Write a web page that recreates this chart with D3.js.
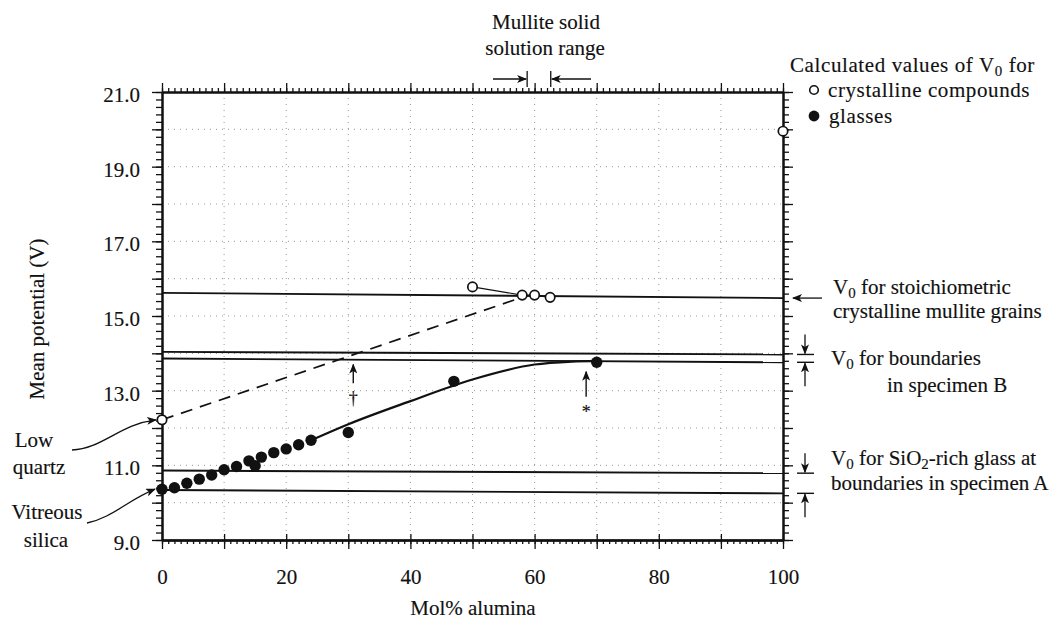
<!DOCTYPE html>
<html>
<head>
<meta charset="utf-8">
<script src="https://cdn.jsdelivr.net/npm/d3@7"></script>
<style>
	body { margin: 0; background: #fff; }
	text { font-family: "Liberation Serif", "DejaVu Serif", serif; fill: #111; stroke: #111; stroke-width: 0.15px; }
	.note { font-size: 21px; }
	.leg { font-size: 21px; letter-spacing: 0.6px; }
</style>
</head>
<body>
<div id="chart"></div>
<script>
// values
var xTickLabels = [0, 20, 40, 60, 80, 100];
var yTickLabels = [9, 11, 13, 15, 17, 19, 21];

// glasses (filled)
var glassX = [0, 2, 4, 6, 8, 10, 12, 14, 15, 16, 18, 20, 22, 24, 30, 47, 70];
var glassY = [10.36, 10.40, 10.52, 10.63, 10.74, 10.88, 10.97, 11.12, 10.99, 11.22, 11.34, 11.44, 11.55, 11.67, 11.88, 13.25, 13.76];

// crystalline compounds (open)
var crystalX = [0, 50, 58, 60, 62.5, 100];
var crystalY = [12.22, 15.78, 15.56, 15.56, 15.50, 19.95];

// tie line through the mullite points
var tieX = [50, 58, 60, 62.5];
var tieY = [15.78, 15.56, 15.56, 15.50];

// dashed line low quartz -> mullite
var dashX = [0, 58];
var dashY = [12.22, 15.50];

// solid curve through glasses
var fitX = [24, 30, 40, 50, 60, 66, 70];
var fitY = [11.67, 12.10, 12.72, 13.30, 13.70, 13.78, 13.80];

// horizontal reference lines (value at x=0 and at x=100)
var refLeft = [15.62, 14.04, 13.86, 10.86, 10.34];
var refRight = [15.48, 13.97, 13.76, 10.79, 10.25];

// small up arrows with marks
var markX = [30.8, 68.3];
var markTip = [13.70, 13.51];
var markTail = [13.20, 12.84];
var markSymbol = ["\u2020", "*"];

// mullite solid solution range
var mulliteRange = [58.8, 62.6];

var W = 1056, H = 623;

var svg = d3.select("#chart")
	.append("svg")
	.attr("width", W)
	.attr("height", H);

var defs = svg.append("defs");
defs.append("marker")
	.attr("id", "head")
	.attr("viewBox", "0 0 10 8")
	.attr("refX", 9)
	.attr("refY", 4)
	.attr("markerWidth", 10)
	.attr("markerHeight", 8)
	.attr("markerUnits", "userSpaceOnUse")
	.attr("orient", "auto")
	.append("path")
	.attr("d", "M0,0 L10,4 L0,8 L2.5,4 Z")
	.attr("fill", "#111");

var x = d3.scaleLinear().domain([0, 100]).range([162, 783]);
var y = d3.scaleLinear().domain([9, 21]).range([540, 92]);

// dotted grid
var grid = svg.append("g")
	.attr("stroke", "#999")
	.attr("stroke-width", 1)
	.attr("stroke-dasharray", "1,5");
grid.selectAll("line.v")
	.data(d3.range(10, 100, 10))
	.enter().append("line")
	.attr("x1", function (d) { return x(d); })
	.attr("x2", function (d) { return x(d); })
	.attr("y1", y(21))
	.attr("y2", y(9));
grid.selectAll("line.h")
	.data(d3.range(10, 21, 1))
	.enter().append("line")
	.attr("y1", function (d) { return y(d); })
	.attr("y2", function (d) { return y(d); })
	.attr("x1", x(0))
	.attr("x2", x(100));

// axes: minor + major ticks on all four sides
function styleAxis(g, w) {
	g.selectAll("path").attr("stroke", "#111").attr("stroke-width", w);
	g.selectAll("line").attr("stroke", "#111").attr("stroke-width", 1.3);
}
var xMinor = d3.range(0, 101, 1);
var xMajor = d3.range(0, 101, 10);
var yMinor = d3.range(9, 21.01, 0.2).map(function (d) { return +d.toFixed(1); });
var yMajor = d3.range(9, 22, 1);

svg.append("g").attr("transform", "translate(0," + y(9) + ")")
	.call(d3.axisBottom(x).tickValues(xMinor).tickSize(4).tickSizeOuter(0).tickFormat(""))
	.call(styleAxis, 2);
svg.append("g").attr("transform", "translate(0," + y(9) + ")")
	.call(d3.axisBottom(x).tickValues(xMajor).tickSize(9).tickSizeOuter(0).tickFormat(""))
	.call(styleAxis, 2);
svg.append("g").attr("transform", "translate(0," + y(9) + ")")
	.call(d3.axisBottom(x).tickValues(xMajor).tickSize(-6).tickSizeOuter(0).tickFormat(""))
	.call(styleAxis, 2);
svg.append("g").attr("transform", "translate(0," + y(21) + ")")
	.call(d3.axisTop(x).tickValues(xMinor).tickSize(4).tickSizeOuter(0).tickFormat(""))
	.call(styleAxis, 2);
svg.append("g").attr("transform", "translate(0," + y(21) + ")")
	.call(d3.axisTop(x).tickValues(xMajor).tickSize(9).tickSizeOuter(0).tickFormat(""))
	.call(styleAxis, 2);
svg.append("g").attr("transform", "translate(" + x(0) + ",0)")
	.call(d3.axisLeft(y).tickValues(yMinor).tickSize(6).tickSizeOuter(0).tickFormat(""))
	.call(styleAxis, 2);
svg.append("g").attr("transform", "translate(" + x(0) + ",0)")
	.call(d3.axisLeft(y).tickValues(yMajor).tickSize(10).tickSizeOuter(0).tickFormat(""))
	.call(styleAxis, 2);
svg.append("g").attr("transform", "translate(" + x(100) + ",0)")
	.call(d3.axisRight(y).tickValues(yMinor).tickSize(6).tickSizeOuter(0).tickFormat(""))
	.call(styleAxis, 2);
svg.append("g").attr("transform", "translate(" + x(100) + ",0)")
	.call(d3.axisRight(y).tickValues(yMajor).tickSize(10).tickSizeOuter(0).tickFormat(""))
	.call(styleAxis, 2);

// tick labels
var xLab = svg.append("g").attr("transform", "translate(0," + y(9) + ")")
	.call(d3.axisBottom(x).tickValues(xTickLabels).tickSize(0).tickPadding(29).tickFormat(d3.format("d")));
xLab.select(".domain").remove();
xLab.selectAll("text").style("font-family", "Liberation Serif").style("font-size", "21px").attr("fill", "#111");

var yLab = svg.append("g").attr("transform", "translate(" + x(0) + ",0)")
	.call(d3.axisLeft(y).tickValues(yTickLabels).tickSize(0).tickPadding(22).tickFormat(d3.format(".1f")));
yLab.select(".domain").remove();
yLab.selectAll("text").style("font-family", "Liberation Serif").style("font-size", "21px").attr("fill", "#111").attr("dy", "0.45em");

// axis titles
svg.append("text")
	.attr("x", 473)
	.attr("y", 615)
	.attr("text-anchor", "middle")
	.style("font-size", "21px")
	.text("Mol% alumina");

svg.append("text")
	.attr("transform", "translate(44,319) rotate(-90)")
	.attr("text-anchor", "middle")
	.style("font-size", "21px")
	.text("Mean potential (V)");

// reference lines
svg.selectAll("line.ref")
	.data(refLeft)
	.enter().append("line")
	.attr("class", "ref")
	.attr("x1", x(0))
	.attr("x2", x(100))
	.attr("y1", function (d) { return y(d); })
	.attr("y2", function (d, i) { return y(refRight[i]); })
	.attr("stroke", "#111")
	.attr("stroke-width", 1.9);

// dashed line
var line = d3.line()
	.x(function (d) { return x(d[0]); })
	.y(function (d) { return y(d[1]); });

svg.append("path")
	.attr("d", line(d3.zip(dashX, dashY)))
	.attr("fill", "none")
	.attr("stroke", "#111")
	.attr("stroke-width", 1.7)
	.attr("stroke-dasharray", "12,8");

// tie line
svg.append("path")
	.attr("d", line(d3.zip(tieX, tieY)))
	.attr("fill", "none")
	.attr("stroke", "#111")
	.attr("stroke-width", 1.2);

// fitted curve
svg.append("path")
	.attr("d", line.curve(d3.curveMonotoneX)(d3.zip(fitX, fitY)))
	.attr("fill", "none")
	.attr("stroke", "#111")
	.attr("stroke-width", 2.2);

// points
svg.selectAll("circle.glass")
	.data(d3.zip(glassX, glassY))
	.enter().append("circle")
	.attr("class", "glass")
	.attr("cx", function (d) { return x(d[0]); })
	.attr("cy", function (d) { return y(d[1]); })
	.attr("r", 5.7)
	.attr("fill", "#111");

svg.selectAll("circle.crystal")
	.data(d3.zip(crystalX, crystalY))
	.enter().append("circle")
	.attr("class", "crystal")
	.attr("cx", function (d) { return x(d[0]); })
	.attr("cy", function (d) { return y(d[1]); })
	.attr("r", 4.7)
	.attr("fill", "#fff")
	.attr("stroke", "#111")
	.attr("stroke-width", 1.7);

// marked arrows
markX.forEach(function (m, i) {
	svg.append("line")
		.attr("x1", x(m)).attr("x2", x(m))
		.attr("y1", y(markTail[i])).attr("y2", y(markTip[i]))
		.attr("stroke", "#111").attr("stroke-width", 1.4)
		.attr("marker-end", "url(#head)");
	svg.append("text")
		.attr("x", x(m))
		.attr("y", y(markTail[i]) + 21)
		.attr("text-anchor", "middle")
		.style("font-size", "18px")
		.attr("fill", "#111")
		.text(markSymbol[i]);
});

// mullite range arrows above the plot
var topY = 79;
svg.append("line").attr("x1", 493).attr("x2", x(mulliteRange[0]) - 1).attr("y1", topY).attr("y2", topY)
	.attr("stroke", "#111").attr("stroke-width", 1.3).attr("marker-end", "url(#head)");
svg.append("line").attr("x1", 591).attr("x2", x(mulliteRange[1]) + 1).attr("y1", topY).attr("y2", topY)
	.attr("stroke", "#111").attr("stroke-width", 1.3).attr("marker-end", "url(#head)");
mulliteRange.forEach(function (m) {
	svg.append("line").attr("x1", x(m)).attr("x2", x(m)).attr("y1", topY - 8).attr("y2", topY + 8)
		.attr("stroke", "#111").attr("stroke-width", 1.3);
});
svg.append("text").attr("x", 546).attr("y", 29).attr("text-anchor", "middle").style("font-size", "21px").text("Mullite solid");
svg.append("text").attr("x", 545).attr("y", 55).attr("text-anchor", "middle").style("font-size", "21px").text("solution range");

// V0 helper: V with subscript 0, then the rest
function v0(t, xx, yy, rest, cls) {
	var tx = t.append("text").attr("class", cls || "note").attr("x", xx).attr("y", yy);
	tx.append("tspan").text("V");
	tx.append("tspan").attr("dy", 4).style("font-size", "15px").text("0");
	tx.append("tspan").attr("dy", -4).text(rest);
	return tx;
}

// legend
var leg = svg.append("g");
v0(leg.append("g"), 0, 0, "");
leg.select("text").remove();
var cl = leg.append("text").attr("class", "leg").attr("x", 790).attr("y", 72);
cl.append("tspan").text("Calculated values of V");
cl.append("tspan").attr("dy", 4).style("font-size", "15px").text("0");
cl.append("tspan").attr("dy", -4).text(" for");
leg.append("circle").attr("cx", 814).attr("cy", 90).attr("r", 4.3)
	.attr("fill", "#fff").attr("stroke", "#111").attr("stroke-width", 1.6);
leg.append("text").attr("class", "leg").attr("x", 828).attr("y", 97).text("crystalline compounds");
leg.append("circle").attr("cx", 814).attr("cy", 116).attr("r", 5.4).attr("fill", "#111");
leg.append("text").attr("class", "leg").attr("x", 829).attr("y", 123).text("glasses");

// right side notes
var rx = x(100);
svg.append("line").attr("x1", 822).attr("x2", rx + 10).attr("y1", y(refRight[0])).attr("y2", y(refRight[0]))
	.attr("stroke", "#111").attr("stroke-width", 1.3).attr("marker-end", "url(#head)");
v0(svg, 833, 294, " for stoichiometric");
svg.append("text").attr("class", "note").attr("x", 833).attr("y", 318).text("crystalline mullite grains");

// pair markers: bars at line level, arrows pointing inward
function pair(a, b) {
	var ya = y(refRight[a]), yb = y(refRight[b]);
	[ya, yb].forEach(function (yy) {
		svg.append("line").attr("x1", 797).attr("x2", 814).attr("y1", yy).attr("y2", yy)
			.attr("stroke", "#111").attr("stroke-width", 1.4);
	});
	svg.append("line").attr("x1", 805).attr("x2", 805).attr("y1", ya - 20).attr("y2", ya - 1)
		.attr("stroke", "#111").attr("stroke-width", 1.3).attr("marker-end", "url(#head)");
	svg.append("line").attr("x1", 805).attr("x2", 805).attr("y1", yb + 24).attr("y2", yb + 1)
		.attr("stroke", "#111").attr("stroke-width", 1.3).attr("marker-end", "url(#head)");
}
pair(1, 2);
pair(3, 4);

v0(svg, 831, 365, " for boundaries");
svg.append("text").attr("class", "note").attr("x", 887).attr("y", 392).text("in specimen B");

var sio = v0(svg, 831, 465, " for SiO");
sio.append("tspan").attr("dy", 4).style("font-size", "15px").text("2");
sio.append("tspan").attr("dy", -4).text("-rich glass at");
svg.append("text").attr("class", "note").attr("x", 831).attr("y", 490).text("boundaries in specimen A");

// left side notes with curved arrows
svg.append("text").attr("class", "note").attr("x", 34).attr("y", 447).attr("text-anchor", "middle").text("Low");
svg.append("text").attr("class", "note").attr("x", 39).attr("y", 474).attr("text-anchor", "middle").text("quartz");
svg.append("path")
	.attr("d", "M72,450 C102,449 120,424 " + (x(0) - 6) + "," + y(crystalY[0]))
	.attr("fill", "none").attr("stroke", "#111").attr("stroke-width", 1.3)
	.attr("marker-end", "url(#head)");

svg.append("text").attr("class", "note").attr("x", 47).attr("y", 519).attr("text-anchor", "middle").text("Vitreous");
svg.append("text").attr("class", "note").attr("x", 46).attr("y", 547).attr("text-anchor", "middle").text("silica");
svg.append("path")
	.attr("d", "M87,523 C112,518 128,500 " + (x(0) - 7) + "," + y(glassY[0]))
	.attr("fill", "none").attr("stroke", "#111").attr("stroke-width", 1.3)
	.attr("marker-end", "url(#head)");
</script>
</body>
</html>
